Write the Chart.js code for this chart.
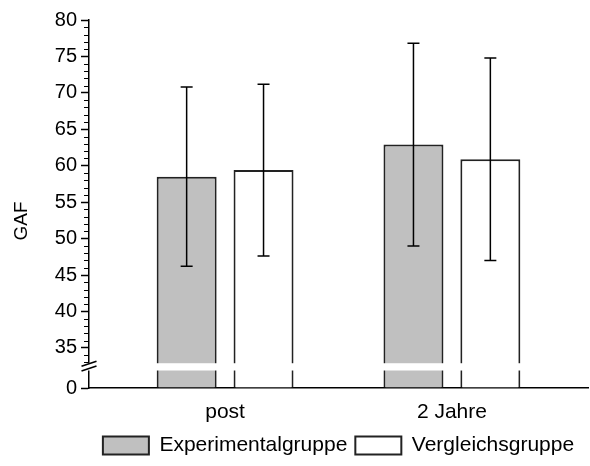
<!DOCTYPE html>
<html>
<head>
<meta charset="utf-8">
<script src="https://cdn.jsdelivr.net/npm/chart.js@4.4.1/dist/chart.umd.min.js"></script>
<style>
  html, body { margin: 0; padding: 0; background: #fff; }
  #wrap { width: 590px; height: 466px; }
</style>
</head>
<body>
<div id="wrap"><canvas id="graficaGAF"></canvas></div>
<script>
const categories = ['post', '2 Jahre'];
const expMittel = [58.5, 62.9];
const expSD = [12.3, 13.9];
const vglMittel = [59.4, 60.9];
const vglSD = [11.8, 13.9];
const yTicks = [35, 40, 45, 50, 55, 60, 65, 70, 75, 80];
const yBreakLabel = '0';
const yTitel = 'GAF';

// the axis is broken: everything under the break is squeezed, "0" sits at Y_MIN
const Y_MIN = 29.5;
const Y_MAX = 80;
const BREAK_LO = 31.9;
const BREAK_HI = 32.9;

const schrift = 'Liberation Sans, Arial, sans-serif';

const achsenBruch = {
  id: 'achsenBruch',
  beforeDatasetsDraw(chart) {
    const {ctx, scales: {y}, chartArea} = chart;
    ctx.save();
    ctx.strokeStyle = '#000';
    ctx.lineWidth = 1;
    // minor ticks, one per unit
    for (let v = Math.ceil(BREAK_HI); v < Y_MAX; v++) {
      if (v % 5 === 0) continue;
      const py = Math.round(y.getPixelForValue(v)) + 0.5;
      ctx.beginPath();
      ctx.moveTo(chartArea.left - 5, py);
      ctx.lineTo(chartArea.left, py);
      ctx.stroke();
    }
    ctx.restore();
  },
  afterDatasetsDraw(chart) {
    const {ctx, scales: {y}, chartArea} = chart;
    ctx.save();
    ctx.strokeStyle = '#000';
    ctx.lineWidth = 1.5;
    // error bars (SD)
    chart.data.datasets.forEach((ds, di) => {
      chart.getDatasetMeta(di).data.forEach((bar, i) => {
        const oben = y.getPixelForValue(ds.data[i].y + ds.sd[i]);
        const unten = y.getPixelForValue(ds.data[i].y - ds.sd[i]);
        ctx.beginPath();
        ctx.moveTo(bar.x, oben);
        ctx.lineTo(bar.x, unten);
        ctx.moveTo(bar.x - 6, oben);
        ctx.lineTo(bar.x + 6, oben);
        ctx.moveTo(bar.x - 6, unten);
        ctx.lineTo(bar.x + 6, unten);
        ctx.stroke();
      });
    });
    // white gap through bars and axis
    const g1 = y.getPixelForValue(BREAK_HI);
    const g2 = y.getPixelForValue(BREAK_LO);
    ctx.fillStyle = '#fff';
    ctx.fillRect(chartArea.left - 1, g1, chartArea.right - chartArea.left + 1, g2 - g1);
    // the two slashes
    const x0 = chartArea.left;
    [g1 + 0.5, g2 - 2].forEach((py) => {
      ctx.beginPath();
      ctx.moveTo(x0 - 7.5, py + 2.5);
      ctx.lineTo(x0 + 7.5, py - 2.5);
      ctx.stroke();
    });
    ctx.restore();
  },
  afterDraw(chart) {
    // y axis title, sits a bit lower than the middle of the axis
    const {ctx, chartArea} = chart;
    ctx.save();
    ctx.translate(chartArea.left - 67, (chartArea.top + chartArea.bottom) / 2 + 17);
    ctx.rotate(-Math.PI / 2);
    ctx.textAlign = 'center';
    ctx.textBaseline = 'middle';
    ctx.fillStyle = '#000';
    ctx.font = '19px ' + schrift;
    ctx.fillText(yTitel, 0, 0);
    ctx.restore();
  }
};

let grafica = new Chart(document.getElementById('graficaGAF'), {
  type: 'bar',
  data: {
    datasets: [{
      label: 'Experimentalgruppe',
      data: expMittel.map((v, i) => ({x: i, y: v})),
      sd: expSD,
      backgroundColor: '#c0c0c0',
      borderColor: '#222',
      borderWidth: 2,
      base: Y_MIN
    }, {
      label: 'Vergleichsgruppe',
      data: vglMittel.map((v, i) => ({x: i, y: v})),
      sd: vglSD,
      backgroundColor: '#fff',
      borderColor: '#222',
      borderWidth: 2,
      base: Y_MIN
    }]
  },
  plugins: [achsenBruch],
  options: {
    animation: false,
    responsive: true,
    maintainAspectRatio: false,
    categoryPercentage: 0.678,
    barPercentage: 0.78,
    layout: { padding: { top: 20, right: 2, left: 0, bottom: 0 } },
    scales: {
      x: {
        type: 'linear',
        offset: false,
        min: -0.6,
        max: 1.6,
        afterBuildTicks: (scale) => { scale.ticks = categories.map((c, i) => ({value: i})); },
        afterFit: (scale) => { scale.height = 39; },
        ticks: {
          callback: (v) => categories[v],
          color: '#000',
          padding: 12,
          font: { family: schrift, size: 21 }
        },
        grid: { display: false, drawTicks: false },
        border: { color: '#000', width: 1.5 }
      },
      y: {
        min: Y_MIN,
        max: Y_MAX,
        afterBuildTicks: (scale) => { scale.ticks = [Y_MIN, ...yTicks].map(v => ({value: v})); },
        afterFit: (scale) => { scale.width = 89; },
        ticks: {
          callback: (v) => v === Y_MIN ? yBreakLabel : v,
          color: '#000',
          padding: 4,
          font: { family: schrift, size: 20 }
        },
        grid: { drawOnChartArea: false, tickLength: 8, tickColor: '#000', tickWidth: 1.5 },
        border: { color: '#000', width: 1.5 }
      }
    },
    plugins: {
      legend: {
        position: 'bottom',
        fullSize: false,
        labels: {
          boxWidth: 46,
          boxHeight: 18,
          padding: 8,
          color: '#000',
          font: { family: schrift, size: 21 }
        }
      },
      tooltip: { enabled: false }
    }
  }
});
</script>
</body>
</html>
